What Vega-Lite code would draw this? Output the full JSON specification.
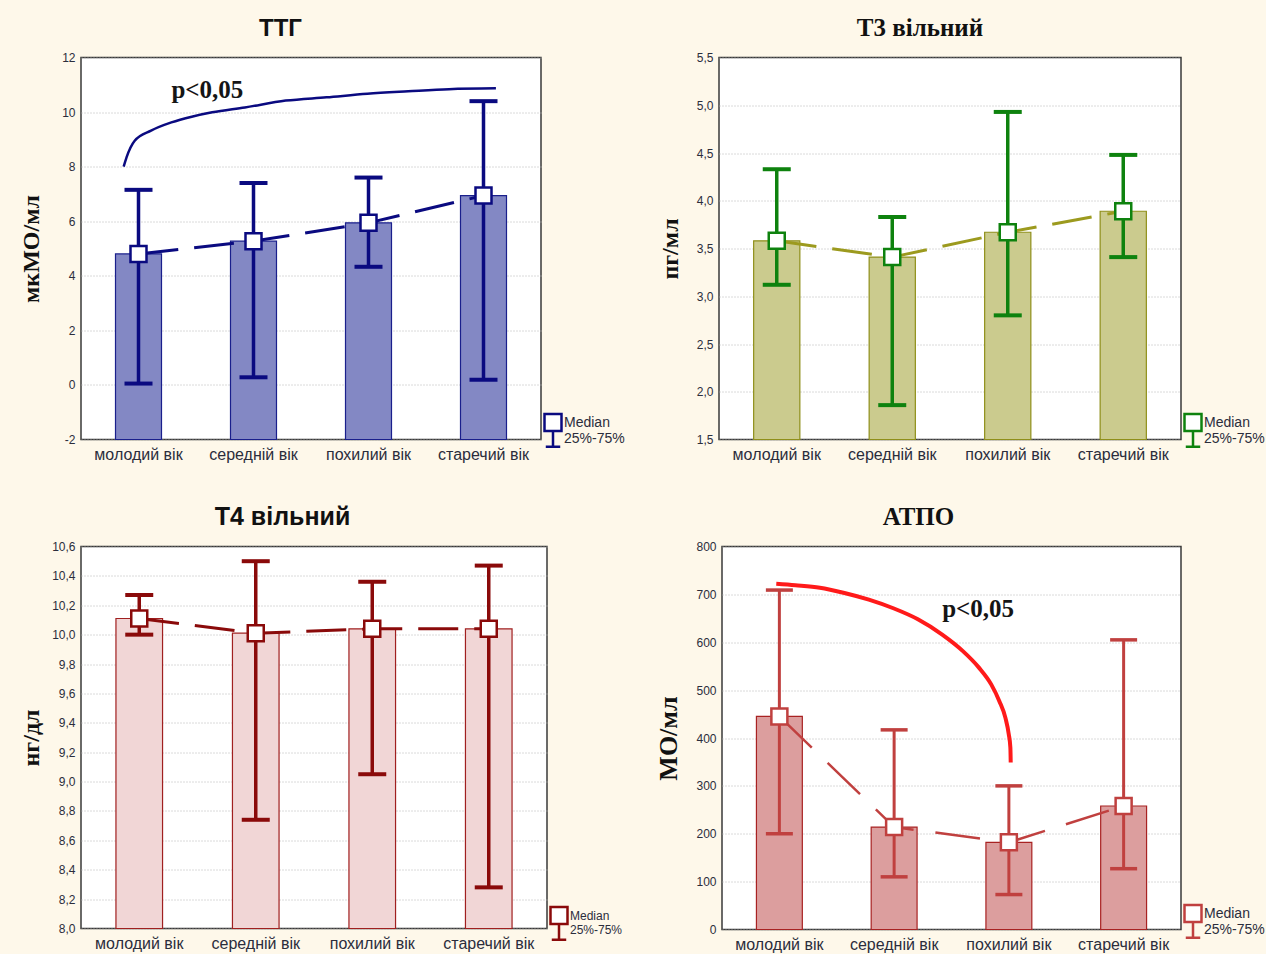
{
  "$schema": "https://vega.github.io/schema/vega-lite/v6.json",
  "background": "#fef8ea",
  "padding": {"left": 18, "top": 14.5, "right": 0, "bottom": 0},
  "spacing": 40,
  "datasets": {
    "ttg": [
      {"age": "молодий вік", "med": 4.8, "lo": 0.05, "hi": 7.15},
      {"age": "середній вік", "med": 5.27, "lo": 0.28, "hi": 7.4},
      {"age": "похилий вік", "med": 5.94, "lo": 4.33, "hi": 7.6},
      {"age": "старечий вік", "med": 6.94, "lo": 0.19, "hi": 10.4}
    ],
    "t3": [
      {"age": "молодий вік", "med": 3.58, "lo": 3.12, "hi": 4.33},
      {"age": "середній вік", "med": 3.41, "lo": 1.86, "hi": 3.83},
      {"age": "похилий вік", "med": 3.67, "lo": 2.8, "hi": 4.93},
      {"age": "старечий вік", "med": 3.89, "lo": 3.41, "hi": 4.48}
    ],
    "t4": [
      {"age": "молодий вік", "med": 10.11, "lo": 10.0, "hi": 10.27},
      {"age": "середній вік", "med": 10.01, "lo": 8.74, "hi": 10.5},
      {"age": "похилий вік", "med": 10.04, "lo": 9.05, "hi": 10.36},
      {"age": "старечий вік", "med": 10.04, "lo": 8.28, "hi": 10.47}
    ],
    "atpo": [
      {"age": "молодий вік", "med": 445, "lo": 200, "hi": 709},
      {"age": "середній вік", "med": 214, "lo": 110, "hi": 417},
      {"age": "похилий вік", "med": 182, "lo": 73, "hi": 300},
      {"age": "старечий вік", "med": 258, "lo": 127, "hi": 605}
    ],
    "ttgcurve": [
      {"xq": 0.371, "v": 8.0}, {"xq": 0.396, "v": 8.34}, {"xq": 0.467, "v": 8.95},
      {"xq": 0.609, "v": 9.32}, {"xq": 0.786, "v": 9.62}, {"xq": 0.963, "v": 9.83},
      {"xq": 1.141, "v": 9.99}, {"xq": 1.425, "v": 10.17}, {"xq": 1.78, "v": 10.42},
      {"xq": 2.135, "v": 10.54}, {"xq": 2.49, "v": 10.67}, {"xq": 2.845, "v": 10.76},
      {"xq": 3.2, "v": 10.84}, {"xq": 3.608, "v": 10.87}
    ],
    "ttgnote": [{"xq": 0.786, "v": 10.53, "t": "p<0,05"}],
    "atpocurve": [
      {"xq": 0.473, "v": 722}, {"xq": 0.64, "v": 719}, {"xq": 0.853, "v": 714},
      {"xq": 1.067, "v": 703}, {"xq": 1.28, "v": 689}, {"xq": 1.493, "v": 671},
      {"xq": 1.707, "v": 648}, {"xq": 1.919, "v": 616}, {"xq": 2.097, "v": 582},
      {"xq": 2.239, "v": 547}, {"xq": 2.346, "v": 512}, {"xq": 2.417, "v": 477},
      {"xq": 2.47, "v": 442}, {"xq": 2.499, "v": 408}, {"xq": 2.513, "v": 380},
      {"xq": 2.516, "v": 349}
    ],
    "atponote": [{"xq": 1.919, "v": 652, "t": "p<0,05"}]
  },
  "config": {
    "view": {"fill": "white", "stroke": "#3a3a3a", "strokeWidth": 1.5},
    "axis": {"domain": false, "ticks": false, "labelFont": "Liberation Sans", "labelColor": "#2b2d3c", "labelOverlap": false},
    "axisY": {"grid": true, "gridColor": "#b5b5b5", "gridDash": [1, 2], "labelFontSize": 12, "labelPadding": 6, "titleFont": "Liberation Serif", "titleFontSize": 24, "titleFontWeight": "bold", "titleColor": "#111111"},
    "axisX": {"grid": false, "labelAngle": 0, "labelFontSize": 16, "labelPadding": 7},
    "legend": {"padding": 0, "labelFont": "Liberation Sans", "labelFontSize": 14, "labelColor": "#2b2d3c", "symbolType": "M-1,-1H1V1H-1Z M0,1V2.85 M-0.85,2.85H0.85", "symbolSize": 289, "symbolStrokeWidth": 2.5, "symbolFillColor": "white", "labelOffset": 1}
  },
  "resolve": {"scale": {"stroke": "independent"}, "legend": {"stroke": "independent"}},
  "vconcat": [
    {
      "spacing": 31,
      "resolve": {"scale": {"stroke": "independent"}, "legend": {"stroke": "independent"}},
      "hconcat": [
        {
          "width": 460, "height": 382,
          "title": {"text": "ТТГ", "font": "Liberation Sans", "fontSize": 24, "fontWeight": "bold", "color": "#111111", "anchor": "middle", "frame": "group", "dx": -30.5, "offset": 10.5},
          "layer": [
            {
              "data": {"name": "ttg"},
              "encoding": {"x": {"field": "age", "type": "nominal", "sort": null, "scale": {"paddingInner": 0.6, "paddingOuter": 0.3}, "axis": {"title": null}}},
              "layer": [
                {"mark": {"type": "bar", "fill": "#8388c4", "stroke": "#1a1f8c", "strokeWidth": 1.2},
                 "encoding": {"y": {"field": "med", "type": "quantitative", "scale": {"domain": [-2, 12], "nice": false, "zero": false}, "axis": {"title": "мкМО/мл", "values": [-2, 0, 2, 4, 6, 8, 10, 12], "labelExpr": "replace(datum.label, '−', '-')", "titlePadding": 18}}, "y2": {"datum": -2}}},
                {"mark": {"type": "line", "color": "#0a0a80", "strokeWidth": 3, "strokeDash": [40, 16]}, "encoding": {"y": {"field": "med", "type": "quantitative"}}},
                {"mark": {"type": "rule", "color": "#0a0a80", "strokeWidth": 3.5}, "encoding": {"y": {"field": "lo", "type": "quantitative"}, "y2": {"field": "hi"}}},
                {"mark": {"type": "tick", "color": "#0a0a80", "thickness": 4, "size": 28, "opacity": 1}, "encoding": {"y": {"field": "lo", "type": "quantitative"}}},
                {"mark": {"type": "tick", "color": "#0a0a80", "thickness": 4, "size": 28, "opacity": 1}, "encoding": {"y": {"field": "hi", "type": "quantitative"}}},
                {"mark": {"type": "point", "shape": "square", "size": 256, "filled": true, "fill": "white", "strokeWidth": 2.5, "opacity": 1},
                 "encoding": {"y": {"field": "med", "type": "quantitative"}, "stroke": {"datum": "Median", "type": "nominal", "scale": {"range": ["#0a0a80"]}, "legend": {"orient": "none", "legendX": 462, "legendY": 355, "title": null, "labelExpr": "['Median', '25%-75%']"}}}}
              ]
            },
            {
              "layer": [
                {"data": {"name": "ttgcurve"}, "mark": {"type": "line", "color": "#0a0a80", "strokeWidth": 2.5, "interpolate": "monotone"},
                 "encoding": {"x": {"field": "xq", "type": "quantitative", "scale": {"domain": [0, 4], "nice": false, "zero": false}, "axis": null}, "y": {"field": "v", "type": "quantitative"}}},
                {"data": {"name": "ttgnote"}, "mark": {"type": "text", "align": "left", "baseline": "alphabetic", "font": "Liberation Serif", "fontSize": 25, "fontWeight": "bold", "color": "#151515"},
                 "encoding": {"x": {"field": "xq", "type": "quantitative", "axis": null}, "y": {"field": "v", "type": "quantitative"}, "text": {"field": "t"}}}
              ]
            }
          ],
          "resolve": {"scale": {"x": "independent"}}
        },
        {
          "width": 462, "height": 382,
          "title": {"text": "Т3 вільний", "font": "Liberation Serif", "fontSize": 25, "fontWeight": "bold", "color": "#111111", "anchor": "middle", "frame": "group", "dx": -30, "offset": 10.5},
          "data": {"name": "t3"},
          "encoding": {"x": {"field": "age", "type": "nominal", "sort": null, "scale": {"paddingInner": 0.6, "paddingOuter": 0.3}, "axis": {"title": null}}},
          "layer": [
            {"mark": {"type": "bar", "fill": "#cbcb8e", "stroke": "#8f8f1a", "strokeWidth": 1.2},
             "encoding": {"y": {"field": "med", "type": "quantitative", "scale": {"domain": [1.5, 5.5], "nice": false, "zero": false}, "axis": {"title": "пг/мл", "values": [1.5, 2, 2.5, 3, 3.5, 4, 4.5, 5, 5.5], "labelExpr": "replace(format(datum.value, '.1f'), '.', ',')", "titlePadding": 14}}, "y2": {"datum": 1.5}}},
            {"mark": {"type": "line", "color": "#9c9a1e", "strokeWidth": 3, "strokeDash": [40, 16]}, "encoding": {"y": {"field": "med", "type": "quantitative"}}},
            {"mark": {"type": "rule", "color": "#0e820e", "strokeWidth": 3.5}, "encoding": {"y": {"field": "lo", "type": "quantitative"}, "y2": {"field": "hi"}}},
            {"mark": {"type": "tick", "color": "#0e820e", "thickness": 4, "size": 28, "opacity": 1}, "encoding": {"y": {"field": "lo", "type": "quantitative"}}},
            {"mark": {"type": "tick", "color": "#0e820e", "thickness": 4, "size": 28, "opacity": 1}, "encoding": {"y": {"field": "hi", "type": "quantitative"}}},
            {"mark": {"type": "point", "shape": "square", "size": 256, "filled": true, "fill": "white", "strokeWidth": 2.5, "opacity": 1},
             "encoding": {"y": {"field": "med", "type": "quantitative"}, "stroke": {"datum": "Median", "type": "nominal", "scale": {"range": ["#0e820e"]}, "legend": {"orient": "none", "legendX": 464, "legendY": 355, "title": null, "labelExpr": "['Median', '25%-75%']"}}}}
          ]
        }
      ]
    },
    {
      "spacing": 31,
      "resolve": {"scale": {"stroke": "independent"}, "legend": {"stroke": "independent"}},
      "hconcat": [
        {
          "width": 466, "height": 382,
          "title": {"text": "Т4 вільний", "font": "Liberation Sans", "fontSize": 25, "fontWeight": "bold", "color": "#111111", "anchor": "middle", "frame": "group", "dx": -31.5, "offset": 10.5},
          "data": {"name": "t4"},
          "encoding": {"x": {"field": "age", "type": "nominal", "sort": null, "scale": {"paddingInner": 0.6, "paddingOuter": 0.3}, "axis": {"title": null}}},
          "layer": [
            {"mark": {"type": "bar", "fill": "#f1d6d6", "stroke": "#a02020", "strokeWidth": 1.2},
             "encoding": {"y": {"field": "med", "type": "quantitative", "scale": {"domain": [8.0, 10.6], "nice": false, "zero": false}, "axis": {"title": "нг/дл", "tickCount": 20, "values": [8.0, 8.2, 8.4, 8.6, 8.8, 9.0, 9.2, 9.4, 9.6, 9.8, 10.0, 10.2, 10.4, 10.6], "labelExpr": "replace(format(datum.value, '.1f'), '.', ',')", "titlePadding": 8}}, "y2": {"datum": 8.0}}},
            {"mark": {"type": "line", "color": "#8a0a0a", "strokeWidth": 3, "strokeDash": [40, 16]}, "encoding": {"y": {"field": "med", "type": "quantitative"}}},
            {"mark": {"type": "rule", "color": "#8a0a0a", "strokeWidth": 3.5}, "encoding": {"y": {"field": "lo", "type": "quantitative"}, "y2": {"field": "hi"}}},
            {"mark": {"type": "tick", "color": "#8a0a0a", "thickness": 4, "size": 28, "opacity": 1}, "encoding": {"y": {"field": "lo", "type": "quantitative"}}},
            {"mark": {"type": "tick", "color": "#8a0a0a", "thickness": 4, "size": 28, "opacity": 1}, "encoding": {"y": {"field": "hi", "type": "quantitative"}}},
            {"mark": {"type": "point", "shape": "square", "size": 256, "filled": true, "fill": "white", "strokeWidth": 2.5, "opacity": 1},
             "encoding": {"y": {"field": "med", "type": "quantitative"}, "stroke": {"datum": "Median", "type": "nominal", "scale": {"range": ["#8a0a0a"]}, "legend": {"orient": "none", "legendX": 468, "legendY": 359, "title": null, "labelFontSize": 12, "labelExpr": "['Median', '25%-75%']"}}}}
          ]
        },
        {
          "width": 459, "height": 383,
          "title": {"text": "АТПО", "font": "Liberation Serif", "fontSize": 25, "fontWeight": "bold", "color": "#111111", "anchor": "middle", "frame": "group", "dx": -33, "offset": 10.5},
          "layer": [
            {
              "data": {"name": "atpo"},
              "encoding": {"x": {"field": "age", "type": "nominal", "sort": null, "scale": {"paddingInner": 0.6, "paddingOuter": 0.3}, "axis": {"title": null}}},
              "layer": [
                {"mark": {"type": "bar", "fill": "#dc9e9e", "stroke": "#a82222", "strokeWidth": 1.2},
                 "encoding": {"y": {"field": "med", "type": "quantitative", "scale": {"domain": [0, 800], "nice": false, "zero": false}, "axis": {"title": "МО/мл", "titleFontSize": 26, "values": [0, 100, 200, 300, 400, 500, 600, 700, 800], "titlePadding": 14}}, "y2": {"datum": 0}}},
                {"mark": {"type": "line", "color": "#c0403f", "strokeWidth": 2.5, "strokeDash": [45, 22]}, "encoding": {"y": {"field": "med", "type": "quantitative"}}},
                {"mark": {"type": "rule", "color": "#c0403f", "strokeWidth": 3}, "encoding": {"y": {"field": "lo", "type": "quantitative"}, "y2": {"field": "hi"}}},
                {"mark": {"type": "tick", "color": "#c0403f", "thickness": 3.5, "size": 27, "opacity": 1}, "encoding": {"y": {"field": "lo", "type": "quantitative"}}},
                {"mark": {"type": "tick", "color": "#c0403f", "thickness": 3.5, "size": 27, "opacity": 1}, "encoding": {"y": {"field": "hi", "type": "quantitative"}}},
                {"mark": {"type": "point", "shape": "square", "size": 256, "filled": true, "fill": "white", "strokeWidth": 2.5, "opacity": 1},
                 "encoding": {"y": {"field": "med", "type": "quantitative"}, "stroke": {"datum": "Median", "type": "nominal", "scale": {"range": ["#c0403f"]}, "legend": {"orient": "none", "legendX": 461, "legendY": 357, "title": null, "labelExpr": "['Median', '25%-75%']"}}}}
              ]
            },
            {
              "layer": [
                {"data": {"name": "atpocurve"}, "mark": {"type": "line", "color": "#ff1a1a", "strokeWidth": 4, "interpolate": "monotone"},
                 "encoding": {"x": {"field": "xq", "type": "quantitative", "scale": {"domain": [0, 4], "nice": false, "zero": false}, "axis": null}, "y": {"field": "v", "type": "quantitative"}}},
                {"data": {"name": "atponote"}, "mark": {"type": "text", "align": "left", "baseline": "alphabetic", "font": "Liberation Serif", "fontSize": 25, "fontWeight": "bold", "color": "#151515"},
                 "encoding": {"x": {"field": "xq", "type": "quantitative", "axis": null}, "y": {"field": "v", "type": "quantitative"}, "text": {"field": "t"}}}
              ]
            }
          ],
          "resolve": {"scale": {"x": "independent"}}
        }
      ]
    }
  ]
}
